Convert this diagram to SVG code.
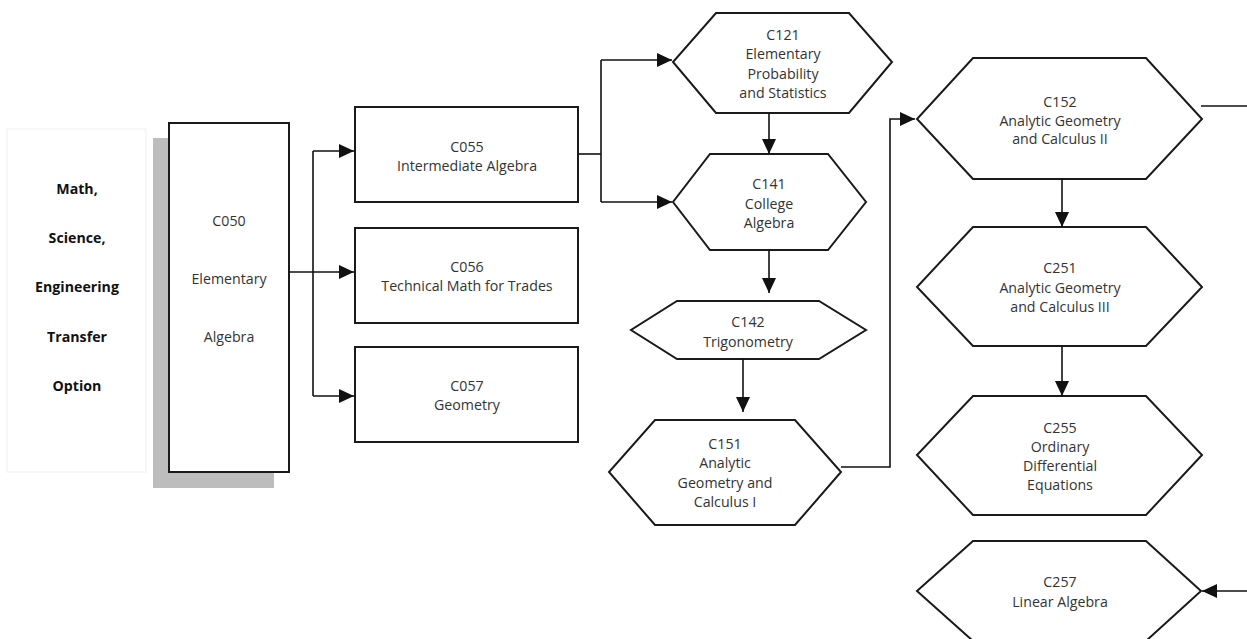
<svg xmlns="http://www.w3.org/2000/svg" width="1247" height="639" viewBox="0 0 1247 639">
<style>
.bg{fill:#ffffff}
.node{fill:#ffffff;stroke:#1a1a1a;stroke-width:2}
.t{font-family:"Open Sans","Liberation Sans",sans-serif;font-size:14.2px;fill:#333;text-anchor:middle}
.b{font-family:"Open Sans","Liberation Sans",sans-serif;font-size:14.2px;font-weight:bold;fill:#111;text-anchor:middle}
.c{fill:none;stroke:#111;stroke-width:1.6}
.ca{fill:none;stroke:#111;stroke-width:1.6;marker-end:url(#ah)}
</style>
<defs>
<marker id="ah" markerUnits="userSpaceOnUse" markerWidth="15" markerHeight="14" refX="15" refY="7" orient="auto">
<path d="M0,0 L15,7 L0,14 z" fill="#111"/>
</marker>
</defs>
<rect class="bg" x="0" y="0" width="1247" height="639"/>

<g id="label-panel">
<rect x="7" y="129" width="139" height="343" fill="#fff" stroke="#efefef" stroke-width="1"/>
<text class="b" x="77" y="194">Math,</text>
<text class="b" x="77" y="243">Science,</text>
<text class="b" x="77" y="292">Engineering</text>
<text class="b" x="77" y="342">Transfer</text>
<text class="b" x="77" y="391">Option</text>
</g>

<g id="C050">
<rect x="153" y="138" width="121" height="350" fill="#bdbdbd"/>
<rect class="node" x="169" y="123" width="120" height="349"/>
<text class="t" x="229" y="226">C050</text>
<text class="t" x="229" y="284">Elementary</text>
<text class="t" x="229" y="342">Algebra</text>
</g>

<g id="C055">
<rect class="node" x="355" y="107" width="223" height="95"/>
<text class="t" x="467" y="152">C055</text>
<text class="t" x="467" y="171">Intermediate Algebra</text>
</g>

<g id="C056">
<rect class="node" x="355" y="228" width="223" height="95"/>
<text class="t" x="467" y="272">C056</text>
<text class="t" x="467" y="291">Technical Math for Trades</text>
</g>

<g id="C057">
<rect class="node" x="355" y="347" width="223" height="95"/>
<text class="t" x="467" y="391">C057</text>
<text class="t" x="467" y="410">Geometry</text>
</g>

<g id="C121">
<polygon class="node" points="716,13 849,13 892,62 849,113 716,113 673,62"/>
<text class="t" x="783" y="40">C121</text>
<text class="t" x="783" y="59">Elementary</text>
<text class="t" x="783" y="79">Probability</text>
<text class="t" x="783" y="98">and Statistics</text>
</g>

<g id="C141">
<polygon class="node" points="710,154 828,154 866,202 828,250 710,250 673,202"/>
<text class="t" x="769" y="189">C141</text>
<text class="t" x="769" y="209">College</text>
<text class="t" x="769" y="228">Algebra</text>
</g>

<g id="C142">
<polygon class="node" points="677,301 819,301 866,330 819,359 677,359 631,330"/>
<text class="t" x="748" y="327">C142</text>
<text class="t" x="748" y="347">Trigonometry</text>
</g>

<g id="C151">
<polygon class="node" points="655,420 795,420 841,472 795,525 655,525 609,472"/>
<text class="t" x="725" y="449">C151</text>
<text class="t" x="725" y="468">Analytic</text>
<text class="t" x="725" y="488">Geometry and</text>
<text class="t" x="725" y="507">Calculus I</text>
</g>

<g id="C152">
<polygon class="node" points="973,58 1146,58 1202,119 1146,179 973,179 917,119"/>
<text class="t" x="1060" y="107">C152</text>
<text class="t" x="1060" y="126">Analytic Geometry</text>
<text class="t" x="1060" y="144">and Calculus II</text>
</g>

<g id="C251">
<polygon class="node" points="973,227 1146,227 1202,287 1146,346 973,346 917,287"/>
<text class="t" x="1060" y="273">C251</text>
<text class="t" x="1060" y="293">Analytic Geometry</text>
<text class="t" x="1060" y="312">and Calculus III</text>
</g>

<g id="C255">
<polygon class="node" points="973,396 1146,396 1202,455 1146,515 973,515 917,455"/>
<text class="t" x="1060" y="433">C255</text>
<text class="t" x="1060" y="452">Ordinary</text>
<text class="t" x="1060" y="471">Differential</text>
<text class="t" x="1060" y="490">Equations</text>
</g>

<g id="C257">
<polygon class="node" points="973,541 1146,541 1201,591 1146,641 973,641 917,591"/>
<text class="t" x="1060" y="587">C257</text>
<text class="t" x="1060" y="607">Linear Algebra</text>
</g>

<g id="connectors">
<path class="ca" d="M289,272 H354" stroke-width="2"/>
<path class="c" d="M313,151 V396"/>
<path class="ca" d="M313,151 H354"/>
<path class="ca" d="M313,396 H354"/>
<path class="c" d="M578,154 H601"/>
<path class="c" d="M601,60 V202"/>
<path class="ca" d="M601,60 H672"/>
<path class="ca" d="M601,202 H672"/>
<path class="ca" d="M769,113 V154"/>
<path class="ca" d="M769,250 V293"/>
<path class="ca" d="M743,359 V412" stroke-width="2.4"/>
<path class="ca" d="M841,467 H890 V119 H915"/>
<path class="ca" d="M1062,179 V227" stroke-width="2"/>
<path class="ca" d="M1062,346 V396" stroke-width="2"/>
<path class="c" d="M1201,106 H1247"/>
<path class="ca" d="M1247,591 H1202"/>
</g>
</svg>
